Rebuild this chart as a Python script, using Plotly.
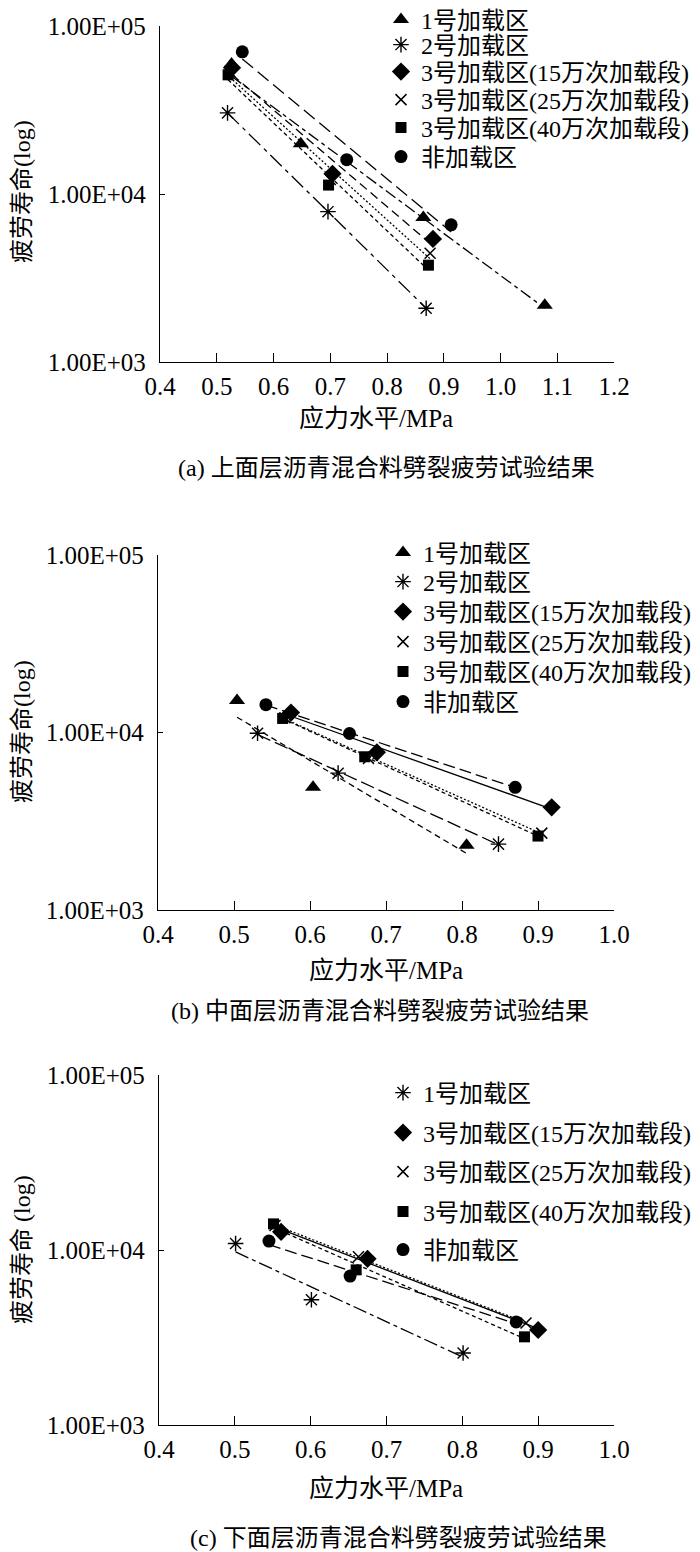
import numpy as np
import plotly.graph_objects as go

# The page body has an 8 px margin, so the figure is 8 px smaller than the
# window and positions below are given in window pixels, then shifted.
OFF = 8
W, H = 700 - OFF, 1552 - OFF

# ---------------- data ----------------
series_names = ["1号加载区", "2号加载区", "3号加载区(15万次加载段)",
                "3号加载区(25万次加载段)", "3号加载区(40万次加载段)", "非加载区"]

# (a) upper layer
a_load1_x = [0.526, 0.648, 0.864, 1.078]
a_load1_y = [59500, 19900, 7250, 2180]
a_load2_x = [0.519, 0.696, 0.869]
a_load2_y = [30400, 7850, 2090]
a_load3_15_x = [0.527, 0.704, 0.881]
a_load3_15_y = [56400, 13200, 5400]
a_load3_25_x = [0.523, 0.700, 0.876]
a_load3_25_y = [53500, 12200, 4440]
a_load3_40_x = [0.520, 0.697, 0.873]
a_load3_40_y = [51200, 11300, 3770]
a_unload_x = [0.545, 0.729, 0.913]
a_unload_y = [70200, 16000, 6550]

# (b) middle layer
b_load1_x = [0.504, 0.604, 0.806]
b_load1_y = [15150, 4910, 2320]
b_load2_x = [0.531, 0.637, 0.848]
b_load2_y = [9900, 5900, 2350]
b_load3_15_x = [0.575, 0.688, 0.918]
b_load3_15_y = [12950, 7730, 3790]
b_load3_25_x = [0.567, 0.677, 0.905]
b_load3_25_y = [12100, 7150, 2710]
b_load3_40_x = [0.564, 0.672, 0.900]
b_load3_40_y = [12000, 7300, 2610]
b_unload_x = [0.542, 0.652, 0.870]
b_unload_y = [14350, 9870, 4910]

# (c) lower layer
c_names = ["1号加载区", "3号加载区(15万次加载段)", "3号加载区(25万次加载段)",
           "3号加载区(40万次加载段)", "非加载区"]
c_load1_x = [0.501, 0.601, 0.801]
c_load1_y = [10900, 5200, 2580]
c_load3_15_x = [0.561, 0.675, 0.900]
c_load3_15_y = [12700, 8900, 3490]
c_load3_25_x = [0.553, 0.663, 0.884]
c_load3_25_y = [13800, 9150, 3830]
c_load3_40_x = [0.551, 0.660, 0.882]
c_load3_40_y = [14100, 7700, 3190]
c_unload_x = [0.545, 0.652, 0.871]
c_unload_y = [11250, 7100, 3880]

y_tickvals = [1e3, 1e4, 1e5]
y_ticktext = ["1.00E+03", "1.00E+04", "1.00E+05"]
y_title_ab = "疲劳寿命(log)"
y_title_c = "疲劳寿命 (log)"
x_title = "应力水平/MPa"
captions = ["(a) 上面层沥青混合料劈裂疲劳试验结果",
            "(b) 中面层沥青混合料劈裂疲劳试验结果",
            "(c) 下面层沥青混合料劈裂疲劳试验结果"]

# ---------------- styles ----------------
FONT = "Liberation Serif, Noto Sans CJK SC, serif"
SYM = {
    "tri": dict(symbol="triangle-up", size=14, color="black"),
    "star": dict(symbol="asterisk-open", size=13, color="black", line=dict(width=1.4, color="black")),
    "dia": dict(symbol="diamond", size=14, color="black"),
    "x": dict(symbol="x-thin-open", size=11, color="black", line=dict(width=1.5, color="black")),
    "sq": dict(symbol="square", size=11, color="black"),
    "cir": dict(symbol="circle", size=13, color="black"),
}

panels = [
    dict(
        xs=[a_load1_x, a_load2_x, a_load3_15_x, a_load3_25_x, a_load3_40_x, a_unload_x],
        ys=[a_load1_y, a_load2_y, a_load3_15_y, a_load3_25_y, a_load3_40_y, a_unload_y],
        names=series_names,
        syms=["tri", "star", "dia", "x", "sq", "cir"],
        dashes=["12px,4px,4px,4px", "16px,5px,4px,5px", "9px,5px", "2px,2px", "4px,3px", "14px,6px"],
        xrange=[0.4, 1.2], px_x=(160, 614), px_y=(26, 362),
        legend_x=381, legend_rows=[20, 45, 72, 100, 128, 157],
        ytitle=y_title_ab, ytitle_y=192, xtitle_y=418, xtitle_x=376,
        caption_y=468, caption_x=386,
    ),
    dict(
        xs=[b_load1_x, b_load2_x, b_load3_15_x, b_load3_25_x, b_load3_40_x, b_unload_x],
        ys=[b_load1_y, b_load2_y, b_load3_15_y, b_load3_25_y, b_load3_40_y, b_unload_y],
        names=series_names,
        syms=["tri", "star", "dia", "x", "sq", "cir"],
        dashes=["6px,4px", "14px,5px", "solid", "2px,2px", "4px,3px", "12px,5px"],
        xrange=[0.4, 1.0], px_x=(158, 614), px_y=(555, 910),
        legend_x=383, legend_rows=[553, 582, 612, 642, 672, 702],
        ytitle=y_title_ab, ytitle_y=732, xtitle_y=970, xtitle_x=386,
        caption_y=1011, caption_x=380,
    ),
    dict(
        xs=[c_load1_x, c_load3_15_x, c_load3_25_x, c_load3_40_x, c_unload_x],
        ys=[c_load1_y, c_load3_15_y, c_load3_25_y, c_load3_40_y, c_unload_y],
        names=c_names,
        syms=["star", "dia", "x", "sq", "cir"],
        dashes=["14px,4px,4px,4px", "solid", "2px,2px", "4px,3px", "12px,5px"],
        xrange=[0.4, 1.0], px_x=(159, 614), px_y=(1075, 1425),
        legend_x=383, legend_rows=[1093, 1133, 1172, 1212, 1250],
        ytitle=y_title_c, ytitle_y=1250, xtitle_y=1488, xtitle_x=386,
        caption_y=1538, caption_x=398,
    ),
]


def px_x(sx):
    return (sx - OFF) / W


def px_y(sy):
    return 1 - (sy - OFF) / H


def trend(xs, ys):
    b, a = np.polyfit(np.asarray(xs), np.log10(np.asarray(ys)), 1)
    xe = np.array([min(xs), max(xs)])
    return xe, 10 ** (a + b * xe)


fig = go.Figure()
layout = dict(width=W, height=H, margin=dict(l=0, r=0, t=0, b=0, autoexpand=False),
              paper_bgcolor="white", plot_bgcolor="white",
              font=dict(family=FONT, size=24, color="black"),
              annotations=[], showlegend=True)

leg_idx = 0
for i, p in enumerate(panels):
    ax = "" if i == 0 else str(i + 1)
    xa, ya = "x" + ax, "y" + ax
    for k in range(len(p["names"])):
        xe, ye = trend(p["xs"][k], p["ys"][k])
        fig.add_trace(go.Scatter(x=xe, y=ye, mode="lines", xaxis=xa, yaxis=ya,
                                 line=dict(color="black", width=1.3, dash=p["dashes"][k]),
                                 showlegend=False, hoverinfo="skip"))
    for k in range(len(p["names"])):
        leg_idx += 1
        lname = "legend" if leg_idx == 1 else f"legend{leg_idx}"
        fig.add_trace(go.Scatter(x=p["xs"][k], y=p["ys"][k], mode="markers",
                                 xaxis=xa, yaxis=ya, name=p["names"][k],
                                 marker=SYM[p["syms"][k]], legend=lname, showlegend=True))
        layout[lname] = dict(x=px_x(p["legend_x"]), y=px_y(p["legend_rows"][k]),
                             xanchor="left", yanchor="middle", bgcolor="rgba(0,0,0,0)",
                             borderwidth=0, font=dict(family=FONT, size=24, color="black"),
                             itemclick=False, itemdoubleclick=False)
    x0, x1 = p["px_x"]
    y0, y1 = p["px_y"]
    layout["xaxis" + ax] = dict(
        domain=[px_x(x0), px_x(x1)], anchor=ya, range=p["xrange"], dtick=0.1, tick0=0.4,
        tickformat=".1f", showline=True, linecolor="black", linewidth=1.3,
        ticks="inside", ticklen=9, tickwidth=1.3, tickcolor="black",
        showgrid=False, zeroline=False, tickfont=dict(size=25), ticklabelstandoff=2)
    layout["yaxis" + ax] = dict(
        domain=[px_y(y1), px_y(y0)], anchor=xa, type="log", range=[3, 5],
        tickvals=y_tickvals, ticktext=y_ticktext, showline=True, linecolor="black",
        linewidth=1.3, ticks="inside", ticklen=5, tickwidth=1.3, tickcolor="black",
        showgrid=False, zeroline=False, tickfont=dict(size=25), ticklabelstandoff=8)
    layout["annotations"] += [
        dict(text=p["ytitle"], x=px_x(22), y=px_y(p["ytitle_y"]), xref="paper", yref="paper",
             textangle=-90, showarrow=False, font=dict(size=24), xanchor="center", yanchor="middle"),
        dict(text=x_title, x=px_x(p["xtitle_x"]), y=px_y(p["xtitle_y"]), xref="paper", yref="paper",
             showarrow=False, font=dict(size=25), xanchor="center", yanchor="middle"),
        dict(text=captions[i], x=px_x(p["caption_x"]), y=px_y(p["caption_y"]), xref="paper",
             yref="paper", showarrow=False, font=dict(size=24), xanchor="center", yanchor="middle"),
    ]

fig.update_layout(**layout)
fig.write_html("out.html")
